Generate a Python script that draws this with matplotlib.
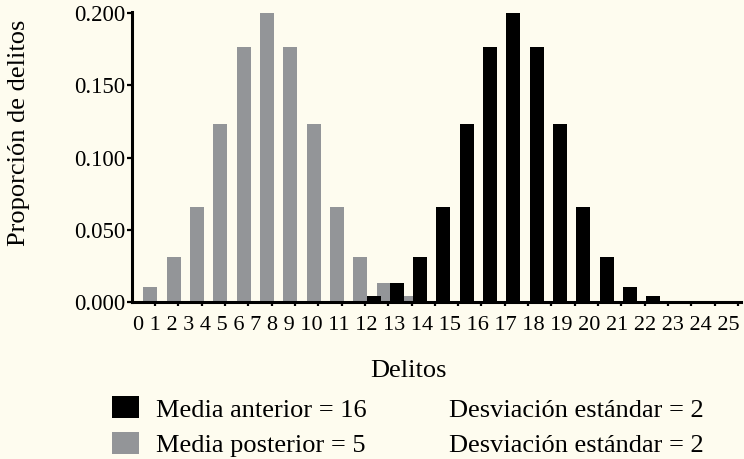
import matplotlib
matplotlib.use("Agg")

import matplotlib.pyplot as plt
from matplotlib.patches import Rectangle

# -------------------------------
# DATA
# -------------------------------
crime_labels = ["0", "1", "2", "3", "4", "5", "6", "7", "8", "9", "10", "11", "12",
                "13", "14", "15", "16", "17", "18", "19", "20", "21", "22", "23", "24", "25"]

posterior_x = [0, 1, 2, 3, 4, 5, 6, 7, 8, 9, 10, 11]
posterior_vals = [0.0108, 0.0313, 0.0658, 0.1231, 0.1763, 0.2000,
                  0.1763, 0.1231, 0.0658, 0.0313, 0.0133, 0.0044]

prior_x = [10, 11, 12, 13, 14, 15, 16, 17, 18, 19, 20, 21, 22]
prior_vals = [0.0044, 0.0133, 0.0313, 0.0658, 0.1231, 0.1763, 0.2000,
              0.1763, 0.1231, 0.0658, 0.0313, 0.0108, 0.0044]

y_ticks = [0.000, 0.050, 0.100, 0.150, 0.200]

legend_names = ["Media anterior = 16", "Media posterior = 5"]
legend_sd = ["Desviación estándar = 2", "Desviación estándar = 2"]

# -------------------------------
# STYLE
# -------------------------------
BG = "#fefcef"
GRAY = "#939598"
BLACK = "#000000"
FONT = "Liberation Serif"
W, H = 744, 459

plt.rcParams["font.family"] = FONT

fig = plt.figure(figsize=(W / 100, H / 100), dpi=100, facecolor=BG)
ax = fig.add_axes([131.7 / W, 156.7 / H, (741 - 131.7) / W, 290.3 / H])
ax.set_facecolor(BG)

bar_w = 0.6
ax.bar([x + 0.8 for x in posterior_x], posterior_vals, width=bar_w, color=GRAY, linewidth=0, zorder=2)
ax.bar([x + 0.37 for x in prior_x], prior_vals, width=bar_w, color=BLACK, linewidth=0, zorder=3)

ax.set_xlim(0, 26.13)
ax.set_ylim(0, 0.2005)

for side in ["top", "right"]:
    ax.spines[side].set_visible(False)
for side in ["left", "bottom"]:
    ax.spines[side].set_linewidth(2.2)
    ax.spines[side].set_color(BLACK)

ax.set_xticks([i + 1 for i in range(len(crime_labels))])
ax.set_xticklabels([])
ax.tick_params(axis="x", direction="out", length=3, width=1.6, color=BLACK)

ax.set_yticks(y_ticks)
ax.set_yticklabels([f"{v:.3f}" for v in y_ticks], fontsize=16.5)
ax.tick_params(axis="y", direction="out", length=3.8, width=1.6, color=BLACK, pad=1)

# x tick labels are set as one line of text, as in the original
ax.text(0.002, -(330.5 - 302.3) / 290.3, " ".join(crime_labels), transform=ax.transAxes,
        ha="left", va="baseline", fontsize=16)

fig.text(19 / W, 1 - 132.5 / H, "Proporción de delitos", rotation=90,
         ha="center", va="center", fontsize=19)
fig.text(408.7 / W, 1 - 376.7 / H, "Delitos", ha="center", va="baseline", fontsize=19)

# legend
for k, (name, sd, col) in enumerate(zip(legend_names, legend_sd, [BLACK, GRAY])):
    top = 396 + 36 * k
    fig.patches.append(Rectangle((112.3 / W, 1 - (top + 21.7) / H), 26.7 / W, 21.7 / H,
                                 transform=fig.transFigure, facecolor=col, edgecolor="none"))
    base = 416.7 + 35 * k
    fig.text(156 / W, 1 - base / H, name, ha="left", va="baseline", fontsize=19)
    fig.text(449.3 / W, 1 - base / H, sd, ha="left", va="baseline", fontsize=19)

fig.savefig("out.png", dpi=100, facecolor=BG)
